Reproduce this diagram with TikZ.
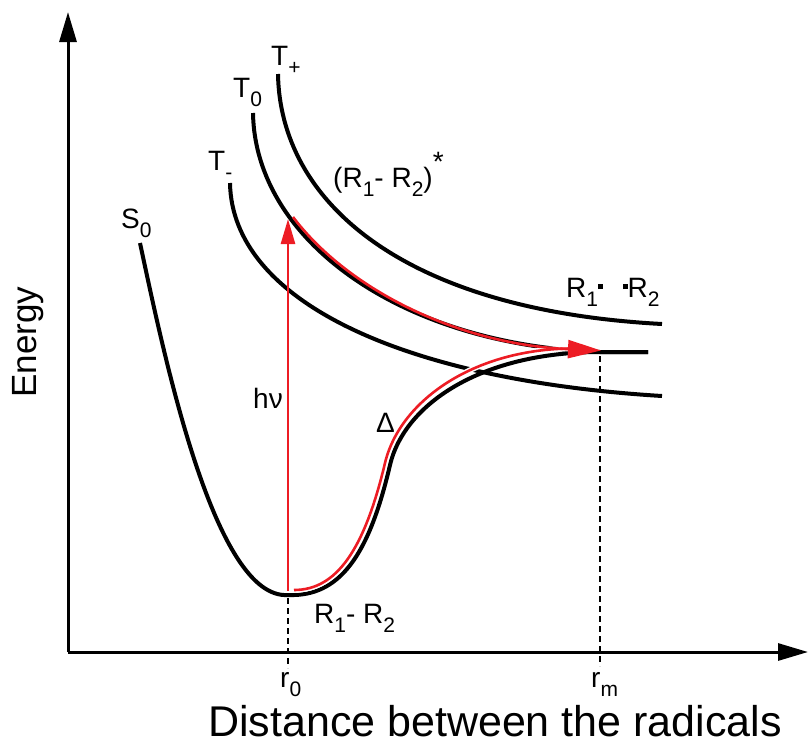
\documentclass[tikz,border=0pt]{standalone}
\usepackage{fontspec}
\usepackage{graphicx}
\setmainfont{Liberation Sans}
\usetikzlibrary{arrows.meta}
\definecolor{myred}{RGB}{237,28,36}
\newcommand{\lbsub}[1]{\raisebox{-0.33em}{\scalebox{0.75}{#1}}}
\newcommand{\raddot}{\raisebox{0.28em}{\rule{5pt}{5pt}}}
\begin{document}
\begin{tikzpicture}[x=1pt,y=-1pt,
  curve/.style={line width=4pt},
  redline/.style={draw=myred, line width=2.6pt},
  whiteback/.style={preaction={draw=white, line width=5.5pt}},
  axis/.style={line width=3pt, -{Triangle[length=30pt,width=17pt]}},
  dashline/.style={line width=2.5pt, dash pattern=on 6pt off 4pt},
  lbl/.style={font=\fontsize{28}{30}\selectfont, inner sep=0pt, anchor=base west}]
\useasboundingbox (0,0) rectangle (808,747);

% axes
\coordinate (origin) at (68,652);
\coordinate (ytip) at (68,12);
\coordinate (xtip) at (808,652);
\draw[axis] (origin) -- (ytip);
\draw[axis] (origin) -- (xtip);

% T- curve
\draw[curve] (230,183) .. controls (232,300) and (400,380) .. (662,396);
% T+ curve
\draw[curve] (278,74) .. controls (280,200) and (400,310) .. (662,324);
% T0 curve
\draw[curve] (253,113) .. controls (255,240) and (400,345) .. (600,352) -- (648,352);
% S0 curve
\draw[curve] (140,243) .. controls (165,360) and (215,600) .. (288,595)
  .. controls (340,597) and (369,555) .. (390,465)
  .. controls (404,405) and (480,352) .. (600,352) -- (648,352);

% dashed markers
\coordinate (r0top) at (288,598);
\coordinate (r0bot) at (288,668);
\coordinate (rmtop) at (600,356);
\coordinate (rmbot) at (600,666);
\draw[dashline] (r0top) -- (r0bot);
\draw[dashline] (rmtop) -- (rmbot);

% red arrows
\coordinate (hvstart) at (288,591);
\coordinate (hvtip) at (288,219);
\draw[redline, -{Triangle[length=25pt,width=14pt]}] (hvstart) -- (hvtip);
\draw[redline, whiteback] (294,590) .. controls (336,590) and (364,551) .. (385,463)
  .. controls (400,400) and (476,347) .. (578,348.5);
\draw[redline, -{Triangle[length=33pt,width=18pt]}] (293,217) .. controls (349,291) and (460,344.5) .. (601,350.5);

% labels
\node[lbl] (Tp) at (271,65) {T\lbsub{+}};
\node[lbl] (T0) at (233,97) {T\lbsub{0}};
\node[lbl] (Tm) at (208,170) {T\lbsub{-}};
\node[lbl] (S0) at (121,228) {S\lbsub{0}};
\node[lbl] (excited) at (333,187) {(R\lbsub{1}- R\lbsub{2})\raisebox{0.55em}{*}};
\node[lbl] (radicals) at (566,297) {R\lbsub{1}\raddot\hspace{0.7em}\raddot R\lbsub{2}};
\node[lbl] (hv) at (253,408) {hν};
\node[lbl] (delta) at (376,432) {Δ};
\node[lbl] (ground) at (314,623) {R\lbsub{1}- R\lbsub{2}};
\node[lbl] (r0) at (280,687) {r\lbsub{0}};
\node[lbl] (rm) at (591,687) {r\lbsub{m}};
\node[font=\fontsize{35}{36}\selectfont, inner sep=0pt, rotate=90] (energy) at (28,342) {Energy};
\node[font=\fontsize{43}{44}\selectfont, inner sep=0pt, anchor=base] (dist) at (495,736) {Distance between the radicals};
\end{tikzpicture}
\end{document}
